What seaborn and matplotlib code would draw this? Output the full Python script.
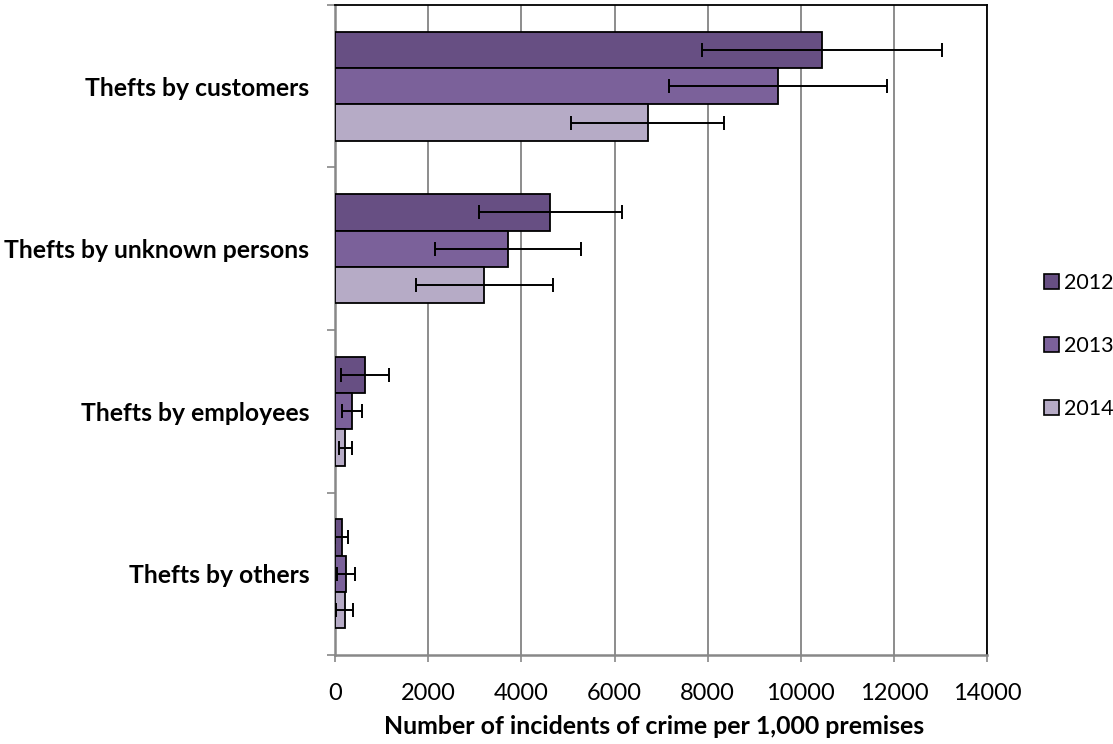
import numpy as np
import pandas as pd
import seaborn as sns
import matplotlib.pyplot as plt
from matplotlib.patches import Patch

categories = ["Thefts by customers", "Thefts by unknown persons",
              "Thefts by employees", "Thefts by others"]
years = ["2012", "2013", "2014"]

values_2012 = [10450, 4620, 640, 145]
values_2013 = [9500, 3710, 370, 235]
values_2014 = [6710, 3200, 220, 205]

errors_2012 = [2580, 1530, 520, 140]
errors_2013 = [2340, 1570, 215, 185]
errors_2014 = [1650, 1470, 140, 185]

colors = ["#674f83", "#7b619a", "#b6abc6"]

sns.set_style("white")
plt.rcParams["font.family"] = ["Lato", "DejaVu Sans"]
plt.rcParams["text.color"] = "black"
plt.rcParams["xtick.color"] = "black"
plt.rcParams["ytick.color"] = "black"

rows = []
for year, vals in zip(years, [values_2012, values_2013, values_2014]):
    for cat, v in zip(categories, vals):
        rows.append({"category": cat, "year": year, "value": v})
df = pd.DataFrame(rows)
errs = {"2012": errors_2012, "2013": errors_2013, "2014": errors_2014}

fig = plt.figure(figsize=(11.13, 7.44), dpi=100)
ax = fig.add_axes([0.301, 0.1196, 0.586, 0.8737])

sns.barplot(data=df, y="category", x="value", hue="year", order=categories,
            hue_order=years, palette=colors, orient="h", width=0.67,
            edgecolor="black", linewidth=1.3, saturation=1, legend=False,
            errorbar=None, ax=ax, zorder=3)

# error bars at the centres of the bars seaborn drew
for container, year in zip(ax.containers, years):
    for bar, err in zip(container, errs[year]):
        yc = bar.get_y() + bar.get_height() / 2
        ax.errorbar(bar.get_width(), yc, xerr=err, fmt="none", ecolor="black",
                    elinewidth=1.4, capsize=5, capthick=1.4, zorder=4)

ax.set_xlim(0, 14000)
ax.set_ylim(len(categories) - 0.5, -0.5)
ax.set_xticks(np.arange(0, 14001, 2000))
ax.tick_params(axis="x", labelsize=17, length=5, color="#888888", width=1.2,
               labelcolor="black", direction="out", bottom=True, pad=15)
ax.set_yticks(range(len(categories)))
ax.set_yticklabels(categories, fontsize=17.8, fontweight="bold")
ax.tick_params(axis="y", length=0, pad=18.5, labelcolor="black")
ax.set_yticks(np.arange(-0.5, len(categories), 1), minor=True)
ax.tick_params(axis="y", which="minor", length=6, color="#888888", width=1.2, left=True)

ax.grid(axis="x", color="#8c8c8c", linewidth=1.4, zorder=0)
ax.set_axisbelow(True)
ax.set_ylabel("")
ax.set_xlabel("Number of incidents of crime per 1,000 premises", fontsize=17.9,
              fontweight="bold", labelpad=10, color="black")
ax.xaxis.set_label_coords(0.489, -0.092)

for side in ["left", "bottom"]:
    ax.spines[side].set_color("#888888")
    ax.spines[side].set_linewidth(1.8)
for side in ["top", "right"]:
    ax.spines[side].set_color("black")
    ax.spines[side].set_linewidth(1.3)

handles = [Patch(facecolor=c, edgecolor="black", linewidth=1.2) for c in colors]
fig.legend(handles, years, loc="center left", bbox_to_anchor=(0.93, 0.535),
           frameon=False, fontsize=15.5, labelspacing=2.0, handlelength=0.7,
           handleheight=0.7, handletextpad=0.25, borderaxespad=0)

fig.savefig("out.png", dpi=100)
